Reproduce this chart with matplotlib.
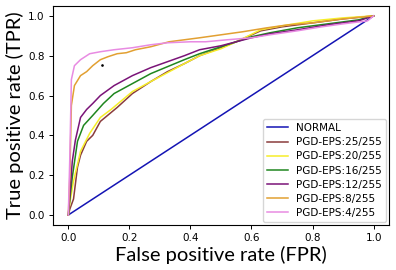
import matplotlib

matplotlib.use("Agg")

import matplotlib.pyplot as plt

plt.rcParams["font.family"] = "DejaVu Sans"

# ROC curves (FPR, TPR)
normal_fpr = [0.0, 1.0]
normal_tpr = [0.0, 1.0]

eps25_fpr = [0, 0.005, 0.017, 0.03, 0.04, 0.06, 0.08, 0.105, 0.16, 0.21, 0.27,
             0.325, 0.38, 0.43, 0.5, 0.55, 0.63, 0.7, 0.8, 0.9, 1.0]
eps25_tpr = [0, 0.03, 0.08, 0.24, 0.30, 0.37, 0.40, 0.47, 0.54, 0.61, 0.67,
             0.72, 0.76, 0.80, 0.84, 0.87, 0.925, 0.945, 0.965, 0.985, 1.0]

eps20_fpr = [0, 0.005, 0.017, 0.04, 0.07, 0.105, 0.14, 0.21, 0.27, 0.325,
             0.38, 0.43, 0.5, 0.55, 0.63, 0.7, 0.8, 0.9, 1.0]
eps20_tpr = [0, 0.06, 0.17, 0.32, 0.41, 0.49, 0.53, 0.62, 0.67, 0.715,
             0.76, 0.80, 0.835, 0.87, 0.93, 0.95, 0.975, 0.99, 1.0]

eps16_fpr = [0, 0.005, 0.013, 0.03, 0.05, 0.08, 0.115, 0.15, 0.21, 0.27,
             0.325, 0.38, 0.43, 0.5, 0.55, 0.6, 0.66, 0.75, 0.85, 0.95, 1.0]
eps16_tpr = [0, 0.08, 0.19, 0.37, 0.45, 0.50, 0.56, 0.61, 0.66, 0.71,
             0.745, 0.78, 0.81, 0.845, 0.87, 0.895, 0.915, 0.94, 0.96, 0.98, 1.0]

eps12_fpr = [0, 0.005, 0.013, 0.023, 0.04, 0.06, 0.08, 0.105, 0.15, 0.21,
             0.27, 0.325, 0.38, 0.43, 0.5, 0.55, 0.6, 0.66, 0.75, 0.85, 0.95, 1.0]
eps12_tpr = [0, 0.10, 0.27, 0.375, 0.49, 0.53, 0.56, 0.60, 0.65, 0.70,
             0.74, 0.77, 0.80, 0.83, 0.85, 0.87, 0.89, 0.91, 0.93, 0.955, 0.975, 1.0]

eps8_fpr = [0, 0.005, 0.01, 0.02, 0.04, 0.06, 0.08, 0.105, 0.13, 0.16, 0.19,
            0.22, 0.27, 0.33, 0.38, 0.43, 0.5, 0.57, 0.65, 0.72, 0.8, 0.9, 1.0]
eps8_tpr = [0, 0.20, 0.55, 0.65, 0.70, 0.72, 0.75, 0.78, 0.795, 0.81, 0.815,
            0.83, 0.845, 0.87, 0.88, 0.89, 0.905, 0.92, 0.94, 0.955, 0.965, 0.985, 1.0]

eps4_fpr = [0, 0.005, 0.01, 0.02, 0.04, 0.07, 0.105, 0.15, 0.21, 0.27, 0.325,
            0.40, 0.45, 0.52, 0.6, 0.66, 0.75, 0.83, 0.9, 0.98, 1.0]
eps4_tpr = [0, 0.30, 0.68, 0.75, 0.78, 0.81, 0.82, 0.83, 0.84, 0.855, 0.865,
            0.87, 0.87, 0.88, 0.89, 0.905, 0.925, 0.945, 0.96, 0.975, 1.0]

stray_fpr = [0.11]
stray_tpr = [0.755]

curves = [
    ("NORMAL", normal_fpr, normal_tpr, "#1414b4"),
    ("PGD-EPS:25/255", eps25_fpr, eps25_tpr, "#8a3c3c"),
    ("PGD-EPS:20/255", eps20_fpr, eps20_tpr, "#f6ee2a"),
    ("PGD-EPS:16/255", eps16_fpr, eps16_tpr, "#1f861f"),
    ("PGD-EPS:12/255", eps12_fpr, eps12_tpr, "#7a1478"),
    ("PGD-EPS:8/255", eps8_fpr, eps8_tpr, "#e2a032"),
    ("PGD-EPS:4/255", eps4_fpr, eps4_tpr, "#e88be2"),
]

fig = plt.figure(figsize=(3.96, 2.70), dpi=100)
ax = fig.add_axes([0.134, 0.167, 0.848, 0.811])

for label, fpr, tpr, color in curves:
    ax.plot(fpr, tpr, color=color, lw=1.1, label=label)

ax.scatter(stray_fpr, stray_tpr, s=0.8, color="black", zorder=10)

ax.set_xticks([0.0, 0.2, 0.4, 0.6, 0.8, 1.0])
ax.set_yticks([0.0, 0.2, 0.4, 0.6, 0.8, 1.0])
ax.tick_params(labelsize=7.5, length=3, width=0.7, pad=3)
for s in ax.spines.values():
    s.set_linewidth(0.8)

ax.set_xlabel("False positive rate (FPR)", family="Lato", fontsize=14.5, labelpad=2)
ax.set_ylabel("True positive rate (TPR)", family="Lato", fontsize=14.5, labelpad=3)

ax.legend(loc="lower right", fontsize=7.5, handlelength=2.0, labelspacing=0.4,
          borderpad=0.4, handletextpad=0.8, borderaxespad=0.25)

fig.savefig("out.png", dpi=100)
